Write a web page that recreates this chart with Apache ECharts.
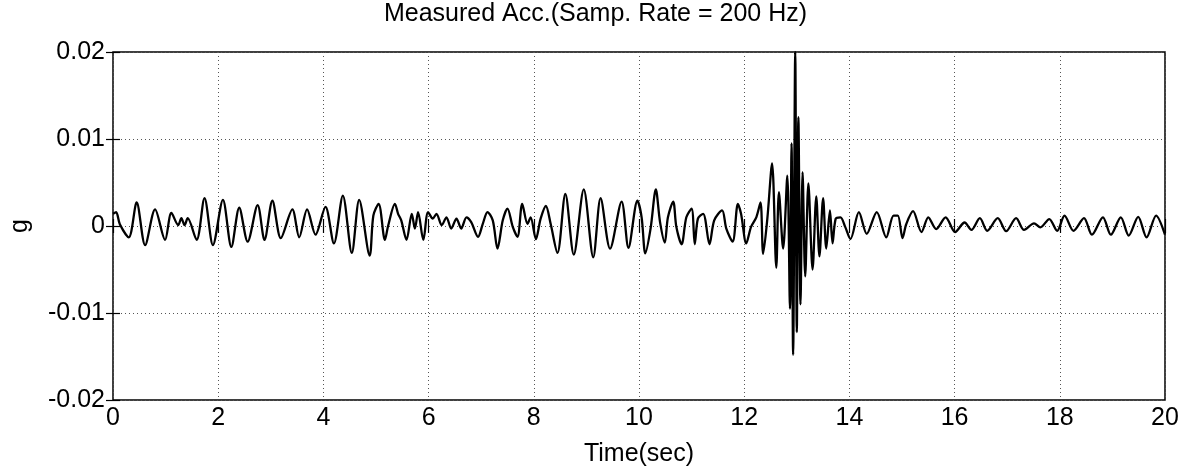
<!DOCTYPE html>
<html><head><meta charset="utf-8">
<script src="https://cdn.jsdelivr.net/npm/echarts@6/dist/echarts.min.js"></script>
<style>html,body{margin:0;padding:0;background:#fff}#c{width:1191px;height:472px}</style>
</head><body><div id="c"></div>
<script>
const titleText = 'Measured Acc.(Samp. Rate = 200 Hz)';
const xAxisName = 'Time(sec)';
const yAxisName = 'g';
const xMin = 0, xMax = 20, xStep = 2;
const yMin = -0.02, yMax = 0.02, yStep = 0.01;

// time (s) of read-off turning points of the trace
const timeSec = [
0.00,0.06,0.13,0.30,0.45,0.61,0.80,0.99,1.11,1.24,1.30,1.36,1.42,1.59,1.74,1.90,2.09,2.25,2.40,2.56,
2.75,2.88,3.03,3.19,3.41,3.54,3.69,3.85,4.04,4.20,4.37,4.54,4.68,4.88,4.95,5.05,5.17,5.23,5.36,5.42,
5.48,5.58,5.68,5.74,5.80,5.90,5.99,6.08,6.15,6.25,6.34,6.43,6.53,6.62,6.72,6.81,6.94,7.03,7.12,7.22,
7.31,7.41,7.50,7.60,7.69,7.78,7.88,7.94,8.04,8.13,8.23,8.32,8.45,8.60,8.76,8.95,9.13,9.27,9.45,9.67,
9.80,9.97,10.05,10.12,10.22,10.32,10.40,10.49,10.55,10.65,10.71,10.81,10.90,11.00,11.06,11.12,11.22,11.34,11.43,11.58,
11.66,11.78,11.88,11.94,12.04,12.13,12.23,12.31,12.36,12.44,12.53,12.61,12.66,12.74,12.82,12.87,12.90,12.93,12.97,13.00,
13.03,13.07,13.11,13.16,13.22,13.30,13.37,13.43,13.50,13.56,13.63,13.68,13.74,13.83,13.92,14.02,14.18,14.33,14.52,14.70,
14.84,14.92,15.01,15.08,15.21,15.37,15.50,15.65,15.83,16.01,16.19,16.32,16.48,16.62,16.82,16.98,17.17,17.32,17.51,17.63,
17.80,17.95,18.09,18.26,18.46,18.61,18.82,18.97,19.16,19.31,19.49,19.65,19.83,20.00
];
// acceleration (g) at those points
const accG = [
0.0014,0.0016,0.0002,-0.0013,0.0027,-0.0022,0.0019,-0.0016,0.0015,0.0001,0.0009,0.0001,0.0009,-0.0016,0.0032,-0.0022,0.0030,-0.0024,0.0021,-0.0018,
0.0024,-0.0016,0.0029,-0.0014,0.0019,-0.0013,0.0019,-0.0010,0.0022,-0.0020,0.0035,-0.0031,0.0030,-0.0034,0.0012,0.00255,-0.0016,0.0000,0.00255,0.0014,
0.00065,-0.0016,0.0014,-0.0003,0.0016,-0.0016,0.0016,0.00085,0.0014,0.0001,0.0010,-0.0003,0.00085,-0.0003,0.0010,0.00045,-0.00125,0.00025,0.0016,0.00065,
-0.0026,0.00065,0.0020,-0.0001,-0.00125,0.00255,0.00025,0.0010,-0.0015,0.00085,0.0023,0.00025,-0.0031,0.0037,-0.0033,0.0042,-0.0036,0.0032,-0.0026,0.0028,
-0.0025,0.0029,0.0010,-0.00315,-0.0003,0.0042,0.00045,-0.0019,0.0010,0.0028,-0.0001,-0.0021,0.0010,0.0020,-0.0021,0.00085,0.0014,-0.0021,0.00065,0.0018,
-0.0003,-0.0018,0.00255,0.0014,-0.0020,-0.0001,0.0010,0.0027,-0.0032,0.00085,0.0072,-0.0048,0.0039,-0.0026,0.0058,-0.0095,0.0095,-0.0148,0.0200,-0.0122,
0.0125,-0.0090,0.0062,-0.0058,0.0049,-0.0050,0.0034,-0.0035,0.0032,-0.0026,0.0018,-0.0020,0.00085,0.0010,-0.0001,-0.0015,0.0016,-0.0009,0.0016,-0.0013,
0.0012,0.0012,-0.0014,0.0002,0.0017,-0.0007,0.0010,-0.00035,0.0010,-0.0007,0.0004,-0.00045,0.0009,-0.00055,0.0009,-0.0006,0.0009,-0.00045,0.0003,-0.00015,
0.0008,-0.00055,0.0012,-0.00055,0.0009,-0.0010,0.0010,-0.0010,0.0010,-0.0011,0.00105,-0.0013,0.0012,-0.0010
];

const font = 'Liberation Sans, Arial, Helvetica, sans-serif';
const chart = echarts.init(document.getElementById('c'), null, {renderer: 'canvas'});
const tickStyle = {show: true, inside: true, length: 7, lineStyle: {color: '#000', width: 1.2}};
const gridLine = {show: true, lineStyle: {color: '#555', type: [1, 3], width: 1}};
chart.setOption({
  animation: false,
  backgroundColor: '#fff',
  title: {text: titleText, left: 'center', top: -3,
    textStyle: {fontFamily: font, fontSize: 25, fontWeight: 'normal', color: '#000'}},
  grid: {left: 106, right: 26, top: 52, bottom: 69, show: true, borderColor: '#000', borderWidth: 1.5},
  xAxis: [{
    type: 'value', min: xMin, max: xMax, interval: xStep, position: 'bottom',
    name: xAxisName, nameLocation: 'middle', nameGap: 42,
    nameTextStyle: {fontFamily: font, fontSize: 25, color: '#000'},
    axisLine: {show: false}, axisTick: tickStyle,
    axisLabel: {fontFamily: font, fontSize: 25, color: '#000', margin: 6},
    splitLine: gridLine
  }, {
    type: 'value', min: xMin, max: xMax, interval: xStep, position: 'top',
    axisLine: {show: false}, axisTick: tickStyle, axisLabel: {show: false}, splitLine: {show: false}
  }],
  yAxis: [{
    type: 'value', min: yMin, max: yMax, interval: yStep, position: 'left',
    name: yAxisName, nameLocation: 'middle', nameGap: 80, nameRotate: 90,
    nameTextStyle: {fontFamily: font, fontSize: 25, color: '#000'},
    axisLine: {show: false}, axisTick: tickStyle,
    axisLabel: {fontFamily: font, fontSize: 25, color: '#000', margin: 8},
    splitLine: gridLine
  }, {
    type: 'value', min: yMin, max: yMax, interval: yStep, position: 'right',
    axisLine: {show: false}, axisTick: tickStyle, axisLabel: {show: false}, splitLine: {show: false}
  }],
  series: [{
    type: 'line', xAxisIndex: 0, yAxisIndex: 0,
    data: timeSec.map((t, i) => [t, accG[i]]),
    showSymbol: false, smooth: 0.3,
    lineStyle: {color: '#000', width: 2.3},
    clip: true
  }]
});
</script>
</body></html>
